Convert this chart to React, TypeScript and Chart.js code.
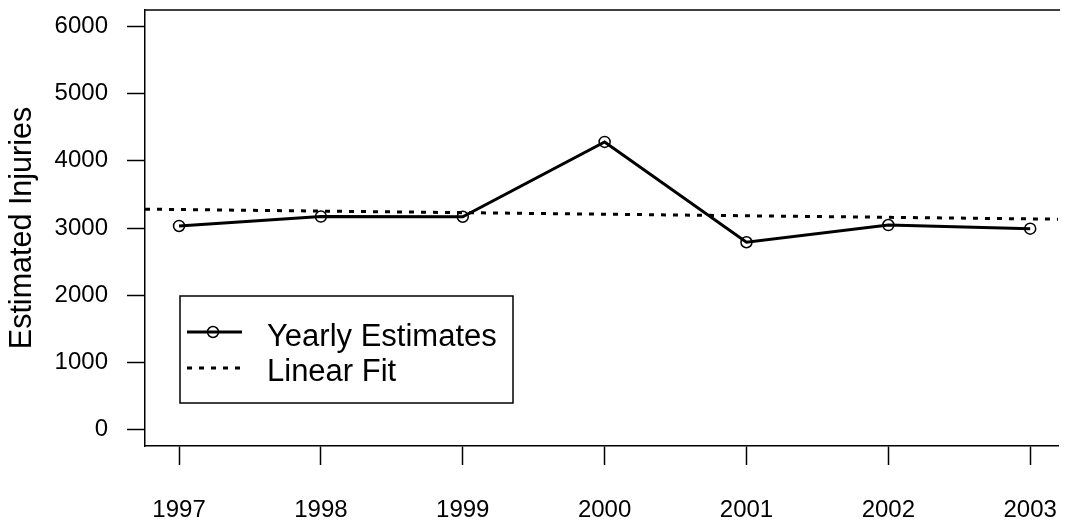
import React, { useEffect, useRef } from 'react';
import { Chart, registerables } from 'chart.js';

Chart.register(...registerables);

const years = [1997, 1998, 1999, 2000, 2001, 2002, 2003];
const estimates = [3030, 3170, 3167, 4279, 2788, 3044, 2990];
const fitYears = [1996.76, 2003.24];
const fitValues = [3280, 3130];
const yTicks = [0, 1000, 2000, 3000, 4000, 5000, 6000];
const seriesLabels = ['Yearly Estimates', 'Linear Fit'];
const yTitle = 'Estimated Injuries';

const FONT = '"Liberation Sans", Arial, Helvetica, sans-serif';

const boxAndLegend = {
  id: 'boxAndLegend',
  afterDraw(chart: any) {
    const ctx = chart.ctx;
    const a = chart.chartArea;
    ctx.save();
    ctx.strokeStyle = '#000';
    ctx.lineWidth = 1.5;
    // top border of the plot box
    ctx.beginPath();
    ctx.moveTo(a.left, a.top);
    ctx.lineTo(a.right + 2, a.top);
    ctx.stroke();

    // legend box
    const lx = 180, ly = 296, lw = 333, lh = 107;
    ctx.strokeRect(lx, ly, lw, lh);

    // solid sample with circle
    ctx.lineWidth = 3;
    ctx.setLineDash([]);
    ctx.beginPath();
    ctx.moveTo(187, 332);
    ctx.lineTo(242, 332);
    ctx.stroke();
    ctx.lineWidth = 1.5;
    ctx.beginPath();
    ctx.arc(213, 332, 5.5, 0, Math.PI * 2);
    ctx.stroke();

    // dotted sample
    ctx.lineWidth = 3;
    ctx.setLineDash([5, 7]);
    ctx.beginPath();
    ctx.moveTo(187, 368);
    ctx.lineTo(242, 368);
    ctx.stroke();
    ctx.setLineDash([]);

    ctx.fillStyle = '#000';
    ctx.font = `31px ${FONT}`;
    ctx.textAlign = 'left';
    ctx.textBaseline = 'alphabetic';
    ctx.fillText(seriesLabels[0], 267, 345.5);
    ctx.fillText(seriesLabels[1], 267, 381);
    ctx.restore();
  },
};

export default function App() {
  const ref = useRef<HTMLCanvasElement | null>(null);

  useEffect(() => {
    document.body.style.margin = '0';
    document.body.style.overflow = 'hidden';
    const canvas = ref.current;
    if (!canvas) return;
    Chart.defaults.color = '#000';
    Chart.defaults.font.family = FONT;

    const chart = new Chart(canvas, {
      type: 'line',
      data: {
        datasets: [
          {
            label: seriesLabels[0],
            data: years.map((x, i) => ({ x, y: estimates[i] })),
            borderColor: '#000',
            borderWidth: 3,
            pointRadius: 5.5,
            pointBorderWidth: 1.5,
            pointBorderColor: '#000',
            pointBackgroundColor: 'rgba(0,0,0,0)',
            tension: 0,
          },
          {
            label: seriesLabels[1],
            data: fitYears.map((x, i) => ({ x, y: fitValues[i] })),
            borderColor: '#000',
            borderWidth: 3,
            borderDash: [5, 7],
            pointRadius: 0,
            tension: 0,
          },
        ],
      },
      options: {
        animation: false,
        responsive: false,
        maintainAspectRatio: false,
        layout: { padding: { top: 10, left: 0, right: 0, bottom: 0 } },
        plugins: {
          legend: { display: false },
          tooltip: { enabled: false },
        },
        scales: {
          x: {
            type: 'linear',
            min: 1996.76,
            max: 2003.196,
            afterBuildTicks: (scale: any) => {
              scale.ticks = years.map((v) => ({ value: v }));
            },
            afterFit: (scale: any) => {
              scale.height = 75;
              scale.paddingLeft = 0;
              scale.paddingRight = 0;
            },
            ticks: {
              callback: (v: any) => String(v),
              font: { size: 24, family: FONT },
              color: '#000',
              padding: 31,
              maxRotation: 0,
              autoSkip: false,
            },
            grid: {
              drawOnChartArea: false,
              drawTicks: true,
              tickLength: 19,
              tickWidth: 1.5,
              tickColor: '#000',
            },
            border: { display: true, color: '#000', width: 1.5 },
          },
          y: {
            type: 'linear',
            min: -240,
            max: 6240,
            afterBuildTicks: (scale: any) => {
              scale.ticks = yTicks.map((v) => ({ value: v }));
            },
            afterFit: (scale: any) => {
              scale.width = 145;
              scale.paddingTop = 0;
              scale.paddingBottom = 0;
            },
            ticks: {
              callback: (v: any) => String(v),
              font: { size: 24, family: FONT },
              color: '#000',
              padding: 19,
              autoSkip: false,
            },
            grid: {
              drawOnChartArea: false,
              drawTicks: true,
              tickLength: 18,
              tickWidth: 1.5,
              tickColor: '#000',
            },
            border: { display: true, color: '#000', width: 1.5 },
            title: {
              display: true,
              text: yTitle,
              font: { size: 30.5, family: FONT },
              color: '#000',
              padding: { top: 4, bottom: 0 },
            },
          },
        },
      },
      plugins: [boxAndLegend],
    } as any);

    return () => chart.destroy();
  }, []);

  return (
    <div style={{ width: 1065, height: 521, position: 'relative', background: '#fff' }}>
      <canvas ref={ref} width={1065} height={521} style={{ display: 'block' }} />
    </div>
  );
}
